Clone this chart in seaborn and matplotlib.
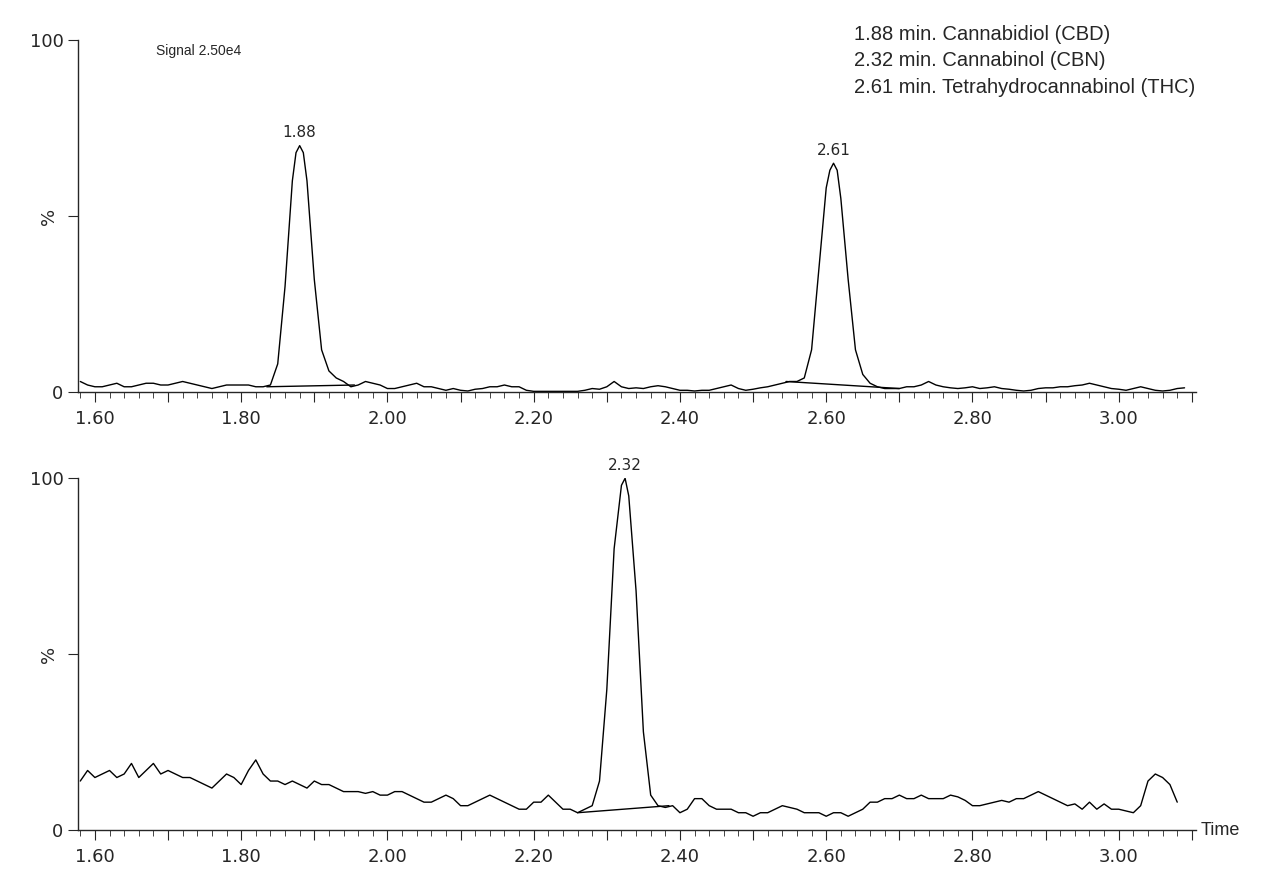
import numpy as np
import pandas as pd
import matplotlib
matplotlib.use("Agg")
import matplotlib.pyplot as plt
import seaborn as sns
from matplotlib.ticker import MultipleLocator, FuncFormatter

# --- top trace: CBD + THC (time in min, intensity in %) ---
top_time = [1.58, 1.59, 1.60, 1.61, 1.62, 1.63, 1.64, 1.65, 1.66, 1.67, 1.68, 1.69, 1.70, 1.71, 1.72,
            1.73, 1.74, 1.75, 1.76, 1.77, 1.78, 1.79, 1.80, 1.81, 1.82, 1.83, 1.84, 1.85, 1.86, 1.87,
            1.875, 1.88, 1.885, 1.89, 1.90, 1.91, 1.92, 1.93, 1.94, 1.95, 1.96, 1.97, 1.98, 1.99, 2.00,
            2.01, 2.02, 2.03, 2.04, 2.05, 2.06, 2.07, 2.08, 2.09, 2.10, 2.11, 2.12, 2.13, 2.14, 2.15,
            2.16, 2.17, 2.18, 2.19, 2.20, 2.22, 2.24, 2.26, 2.27, 2.28, 2.29, 2.30, 2.31, 2.32, 2.33,
            2.34, 2.35, 2.36, 2.37, 2.38, 2.39, 2.40, 2.41, 2.42, 2.43, 2.44, 2.45, 2.46, 2.47, 2.48,
            2.49, 2.50, 2.51, 2.52, 2.53, 2.54, 2.55, 2.56, 2.57, 2.58, 2.59, 2.60, 2.605, 2.61, 2.615,
            2.62, 2.63, 2.64, 2.65, 2.66, 2.67, 2.68, 2.69, 2.70, 2.71, 2.72, 2.73, 2.74, 2.75, 2.76,
            2.77, 2.78, 2.79, 2.80, 2.81, 2.82, 2.83, 2.84, 2.85, 2.86, 2.87, 2.88, 2.89, 2.90, 2.91,
            2.92, 2.93, 2.94, 2.95, 2.96, 2.97, 2.98, 2.99, 3.00, 3.01, 3.02, 3.03, 3.04, 3.05, 3.06,
            3.07, 3.08, 3.09]
top_signal = [3, 2, 1.5, 1.5, 2, 2.5, 1.5, 1.5, 2, 2.5, 2.5, 2, 2, 2.5, 3,
              2.5, 2, 1.5, 1, 1.5, 2, 2, 2, 2, 1.5, 1.5, 2, 8, 30, 60,
              68, 70, 68, 60, 32, 12, 6, 4, 3, 1.5, 2, 3, 2.5, 2, 1,
              1, 1.5, 2, 2.5, 1.5, 1.5, 1, 0.5, 1, 0.5, 0.3, 0.8, 1, 1.5, 1.5,
              2, 1.5, 1.5, 0.5, 0.2, 0.2, 0.2, 0.2, 0.5, 1, 0.8, 1.5, 3, 1.5, 1,
              1.2, 1, 1.5, 1.8, 1.5, 1, 0.5, 0.5, 0.3, 0.5, 0.5, 1, 1.5, 2, 1,
              0.5, 0.8, 1.2, 1.5, 2, 2.5, 3, 3, 4, 12, 35, 58, 63, 65, 63,
              55, 32, 12, 5, 2.5, 1.5, 1, 1, 1, 1.5, 1.5, 2, 3, 2, 1.5,
              1.2, 1, 1.2, 1.5, 1, 1.2, 1.5, 1, 0.8, 0.5, 0.3, 0.5, 1, 1.2, 1.2,
              1.5, 1.5, 1.8, 2, 2.5, 2, 1.5, 1, 0.8, 0.5, 1, 1.5, 1, 0.5, 0.3,
              0.5, 1, 1.2]

# --- bottom trace: CBN ---
bot_time = [1.58, 1.59, 1.60, 1.61, 1.62, 1.63, 1.64, 1.65, 1.66, 1.67, 1.68, 1.69, 1.70, 1.71, 1.72,
            1.73, 1.74, 1.75, 1.76, 1.77, 1.78, 1.79, 1.80, 1.81, 1.82, 1.83, 1.84, 1.85, 1.86, 1.87,
            1.88, 1.89, 1.90, 1.91, 1.92, 1.93, 1.94, 1.95, 1.96, 1.97, 1.98, 1.99, 2.00, 2.01, 2.02,
            2.03, 2.04, 2.05, 2.06, 2.07, 2.08, 2.09, 2.10, 2.11, 2.12, 2.13, 2.14, 2.15, 2.16, 2.17,
            2.18, 2.19, 2.20, 2.21, 2.22, 2.23, 2.24, 2.25, 2.26, 2.27, 2.28, 2.29, 2.30, 2.31, 2.32,
            2.325, 2.33, 2.34, 2.35, 2.36, 2.37, 2.38, 2.39, 2.40, 2.41, 2.42, 2.43, 2.44, 2.45, 2.46,
            2.47, 2.48, 2.49, 2.50, 2.51, 2.52, 2.53, 2.54, 2.55, 2.56, 2.57, 2.58, 2.59, 2.60, 2.61,
            2.62, 2.63, 2.64, 2.65, 2.66, 2.67, 2.68, 2.69, 2.70, 2.71, 2.72, 2.73, 2.74, 2.75, 2.76,
            2.77, 2.78, 2.79, 2.80, 2.81, 2.82, 2.83, 2.84, 2.85, 2.86, 2.87, 2.88, 2.89, 2.90, 2.91,
            2.92, 2.93, 2.94, 2.95, 2.96, 2.97, 2.98, 2.99, 3.00, 3.01, 3.02, 3.03, 3.04, 3.05, 3.06,
            3.07, 3.08]
bot_signal = [14, 17, 15, 16, 17, 15, 16, 19, 15, 17, 19, 16, 17, 16, 15,
              15, 14, 13, 12, 14, 16, 15, 13, 17, 20, 16, 14, 14, 13, 14,
              13, 12, 14, 13, 13, 12, 11, 11, 11, 10.5, 11, 10, 10, 11, 11,
              10, 9, 8, 8, 9, 10, 9, 7, 7, 8, 9, 10, 9, 8, 7,
              6, 6, 8, 8, 10, 8, 6, 6, 5, 6, 7, 14, 40, 80, 98,
              100, 95, 68, 28, 10, 7, 6.5, 7, 5, 6, 9, 9, 7, 6, 6,
              6, 5, 5, 4, 5, 5, 6, 7, 6.5, 6, 5, 5, 5, 4, 5,
              5, 4, 5, 6, 8, 8, 9, 9, 10, 9, 9, 10, 9, 9, 9,
              10, 9.5, 8.5, 7, 7, 7.5, 8, 8.5, 8, 9, 9, 10, 11, 10, 9,
              8, 7, 7.5, 6, 8, 6, 7.5, 6, 6, 5.5, 5, 7, 14, 16, 15,
              13, 8]

# integration baselines (start/end time, start/end level)
top_bases = [((1.835, 1.955), (1.5, 2.0)), ((2.545, 2.70), (3.0, 1.0))]
bot_bases = [((2.26, 2.385), (5.0, 7.0))]
top_labels = [(1.88, 70, "1.88"), (2.61, 65, "2.61")]
bot_labels = [(2.325, 100, "2.32")]
legend_lines = ["1.88 min. Cannabidiol (CBD)",
                "2.32 min. Cannabinol (CBN)",
                "2.61 min. Tetrahydrocannabinol (THC)"]

sns.set_style("ticks")
plt.rcParams['font.family'] = ['DejaVu Sans']

fig = plt.figure(figsize=(12.8, 8.89), dpi=100)
ax1 = fig.add_axes([0.061, 0.559, 0.873, 0.396])
ax2 = fig.add_axes([0.061, 0.066, 0.873, 0.396])


def style_axis(ax):
    ax.set_xlim(1.577, 3.105)
    ax.set_ylim(0, 100)
    sns.despine(ax=ax)
    ax.xaxis.set_major_locator(MultipleLocator(0.1))
    ax.xaxis.set_minor_locator(MultipleLocator(0.02))
    ax.xaxis.set_major_formatter(FuncFormatter(
        lambda v, p: f"{v:.2f}" if round(v * 10) % 2 == 0 else ""))
    ax.set_yticks([0, 50, 100])
    ax.set_yticklabels(["0", "", "100"])
    ax.set_ylabel("%", fontsize=13)
    ax.yaxis.set_label_coords(-0.018, 0.5)
    ax.tick_params(axis='x', which='major', length=7, labelsize=13, pad=6)
    ax.tick_params(axis='x', which='minor', length=4)
    ax.tick_params(axis='y', length=7, labelsize=13)
    for s in ax.spines.values():
        s.set_linewidth(1.0)
    ax.set_xlabel("")


for ax, t, s, bases, labels in [(ax1, top_time, top_signal, top_bases, top_labels),
                                (ax2, bot_time, bot_signal, bot_bases, bot_labels)]:
    df = pd.DataFrame({"time": t, "signal": s})
    sns.lineplot(data=df, x="time", y="signal", ax=ax, color="black", lw=1.0, sort=False)
    for (xs, ys) in bases:
        ax.plot(xs, ys, color="black", lw=1.0)
    for x, y, lab in labels:
        ax.text(x, y + 1.5, lab, ha="center", va="bottom", fontsize=11)
    style_axis(ax)

ax1.text(0.07, 0.99, "Signal 2.50e4", transform=ax1.transAxes, fontsize=10, va="top",
         family=["Liberation Sans"])
fig.text(0.667, 0.972, "\n".join(legend_lines), fontsize=14.5, va="top", ha="left",
         family=["Liberation Sans"], linespacing=1.5)
ax2.text(1.005, 0.0, "Time", transform=ax2.transAxes, fontsize=13, va="center", ha="left",
         family=["Liberation Sans"])

plt.savefig("out.png", dpi=100)
